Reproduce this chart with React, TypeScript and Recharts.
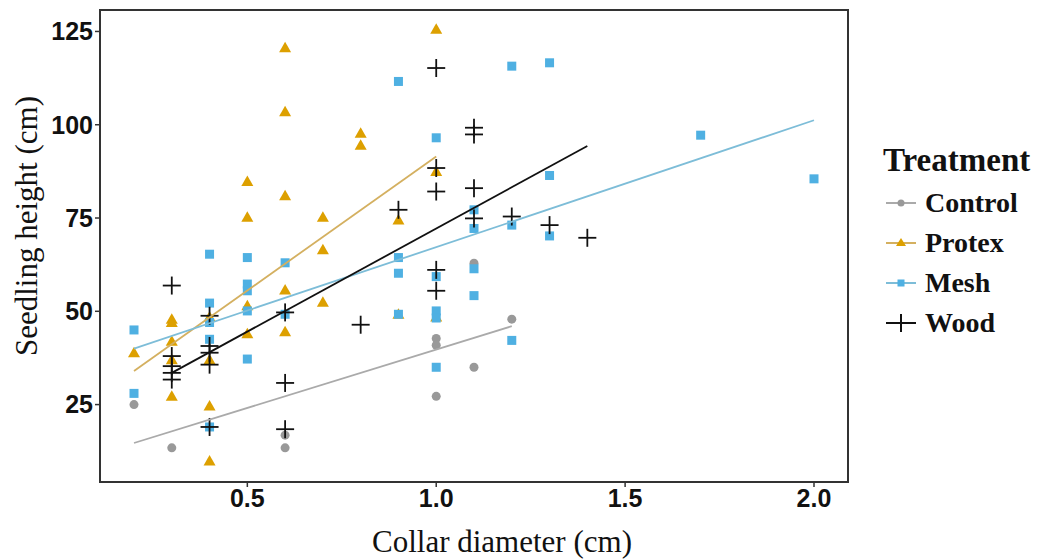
import React from "react";
import { ReferenceArea, Scatter, ScatterChart, XAxis, YAxis } from "recharts";

// values: [collar diameter, seedling height]
const controlPts: [number, number][] = [
  [0.2, 25], [0.3, 13.4], [0.6, 16.8], [0.6, 13.4], [1.0, 42.7], [1.0, 40.9],
  [1.0, 27.2], [1.1, 62.9], [1.1, 35], [1.2, 47.9],
];
const protexPts: [number, number][] = [
  [0.2, 38.9], [0.3, 47.9], [0.3, 47], [0.3, 42], [0.3, 37], [0.3, 27.2],
  [0.4, 48.5], [0.4, 37], [0.4, 24.6], [0.4, 9.9], [0.5, 84.8], [0.5, 75.2],
  [0.5, 51.5], [0.5, 44], [0.6, 120.6], [0.6, 103.5], [0.6, 81], [0.6, 55.7],
  [0.6, 44.5], [0.7, 75.2], [0.7, 66.5], [0.7, 52.4], [0.8, 97.7], [0.8, 94.5],
  [0.9, 74.5], [0.9, 49.2], [1.0, 125.6], [1.0, 87.5], [1.0, 48.5],
];
const meshPts: [number, number][] = [
  [0.2, 45], [0.2, 28], [0.4, 65.3], [0.4, 52.2], [0.4, 47], [0.4, 42.5],
  [0.4, 19], [0.5, 64.4], [0.5, 57.3], [0.5, 55.5], [0.5, 50.1], [0.5, 37.2],
  [0.6, 63], [0.6, 49.2], [0.9, 111.6], [0.9, 64.4], [0.9, 60.2], [0.9, 49.2],
  [1.0, 96.5], [1.0, 59.3], [1.0, 50.1], [1.0, 48.2], [1.0, 35], [1.1, 77.2],
  [1.1, 72.2], [1.1, 61.4], [1.1, 54.2], [1.2, 115.7], [1.2, 73.1], [1.2, 42.2],
  [1.3, 116.6], [1.3, 86.4], [1.3, 70.2], [1.7, 97.2], [2.0, 85.5],
];
const woodPts: [number, number][] = [
  [0.3, 56.9], [0.3, 38], [0.3, 35.3], [0.3, 33.5], [0.3, 31.7], [0.4, 48.8],
  [0.4, 40.7], [0.4, 38.9], [0.4, 35.7], [0.4, 19], [0.6, 49.7], [0.6, 30.8],
  [0.6, 18.4], [0.8, 46.4], [0.9, 77.2], [1.0, 115.2], [1.0, 88.4], [1.0, 82.1],
  [1.0, 61.1], [1.0, 55.5], [1.1, 99.2], [1.1, 97.4], [1.1, 83], [1.1, 74.9],
  [1.2, 75.4], [1.3, 73.1], [1.4, 69.7],
];

// fitted lines, end points
const controlFit: [number, number][] = [[0.2, 14.7], [1.2, 46]];
const protexFit: [number, number][] = [[0.2, 34], [1.0, 91.5]];
const meshFit: [number, number][] = [[0.2, 40], [2.0, 101.2]];
const woodFit: [number, number][] = [[0.3, 33.5], [1.4, 94.3]];

const xTicks = [0.5, 1.0, 1.5, 2.0];
const yTicks = [25, 50, 75, 100, 125];
const xDomain: [number, number] = [0.11, 2.09];
const yDomain: [number, number] = [4.25, 130.75];

const treatments = ["Control", "Protex", "Mesh", "Wood"];

const C: Record<string, { pt: string; line: string }> = {
  Control: { pt: "#999999", line: "#aaaaaa" },
  Protex: { pt: "#dda000", line: "#d4b060" },
  Mesh: { pt: "#4fb0e2", line: "#7dbdd8" },
  Wood: { pt: "#111111", line: "#111111" },
};

const serif = "'Liberation Serif', 'Times New Roman', serif";

const toRows = (pts: [number, number][]) => pts.map(([x, y]) => ({ x, y }));

const Dot = (color: string) => (p: any) => <circle cx={p.cx} cy={p.cy} r={4.5} fill={color} />;
const Tri = (color: string) => (p: any) => (
  <polygon
    points={`${p.cx},${p.cy - 6} ${p.cx - 6},${p.cy + 4.5} ${p.cx + 6},${p.cy + 4.5}`}
    fill={color}
  />
);
const Sq = (color: string) => (p: any) => (
  <rect x={p.cx - 4.5} y={p.cy - 4.5} width={9} height={9} fill={color} />
);
const Plus = (color: string) => (p: any) => (
  <g stroke={color} strokeWidth={1.8}>
    <line x1={p.cx - 9} x2={p.cx + 9} y1={p.cy} y2={p.cy} />
    <line x1={p.cx} x2={p.cx} y1={p.cy - 9} y2={p.cy + 9} />
  </g>
);
const NoMark = () => <g />;

function KeyIcon({ name }: { name: string }) {
  const c = C[name];
  return (
    <svg width={32} height={20} style={{ marginRight: 8 }}>
      <line x1={1} x2={31} y1={10} y2={10} stroke={c.line} strokeWidth={2} />
      {name === "Control" && <circle cx={16} cy={10} r={3.5} fill={c.pt} />}
      {name === "Protex" && <polygon points="16,5 11,13 21,13" fill={c.pt} />}
      {name === "Mesh" && <rect x={12.5} y={6.5} width={7} height={7} fill={c.pt} />}
      {name === "Wood" && <line x1={16} x2={16} y1={1} y2={19} stroke={c.pt} strokeWidth={2} />}
    </svg>
  );
}

function TreatmentLegend() {
  return (
    <div
      style={{
        position: "absolute",
        left: 883,
        top: 140,
        fontFamily: serif,
        fontWeight: "bold",
        color: "#111",
      }}
    >
      <div style={{ fontSize: 33, lineHeight: "40px", marginBottom: 3 }}>Treatment</div>
      {treatments.map((t) => (
        <div key={t} style={{ display: "flex", alignItems: "center", height: 40, fontSize: 28, marginLeft: 2 }}>
          <KeyIcon name={t} />
          {t}
        </div>
      ))}
    </div>
  );
}

const tickStyle = {
  fill: "#111",
  fontFamily: "'Liberation Sans', Arial, sans-serif",
  fontWeight: "bold" as const,
  fontSize: 25,
};

const xTitle = () => (
  <text x={502} y={552} textAnchor="middle" fontFamily={serif} fontSize={31} fill="#111">
    Collar diameter (cm)
  </text>
);
const yTitle = () => (
  <text
    transform="translate(37, 226) rotate(-90)"
    textAnchor="middle"
    fontFamily={serif}
    fontSize={31}
    fill="#111"
  >
    Seedling height (cm)
  </text>
);

export default function App() {
  return (
    <div style={{ position: "absolute", left: 0, top: 0, width: 1049, height: 559, background: "#fff" }}>
      <ScatterChart width={1049} height={559} margin={{ top: 10, right: 201, bottom: 0, left: 0 }}>
        <XAxis
          type="number"
          dataKey="x"
          domain={xDomain}
          ticks={xTicks}
          tickFormatter={(v: number) => v.toFixed(1)}
          axisLine={false}
          tickLine={{ stroke: "#333", strokeWidth: 1.5 }}
          tickSize={5}
          tick={tickStyle}
          height={77}
          allowDataOverflow
          label={{ content: xTitle }}
        />
        <YAxis
          type="number"
          dataKey="y"
          domain={yDomain}
          ticks={yTicks}
          axisLine={false}
          tickLine={{ stroke: "#333", strokeWidth: 1.5 }}
          tickSize={5}
          tick={tickStyle}
          width={100}
          allowDataOverflow
          label={{ content: yTitle }}
        />
        <ReferenceArea
          x1={xDomain[0]}
          x2={xDomain[1]}
          y1={yDomain[0]}
          y2={yDomain[1]}
          fill="none"
          stroke="#333"
          strokeWidth={2}
          ifOverflow="visible"
        />
        <Scatter name="Control" data={toRows(controlPts)} shape={Dot(C.Control.pt)} isAnimationActive={false} />
        <Scatter name="Protex" data={toRows(protexPts)} shape={Tri(C.Protex.pt)} isAnimationActive={false} />
        <Scatter name="Mesh" data={toRows(meshPts)} shape={Sq(C.Mesh.pt)} isAnimationActive={false} />
        <Scatter name="Wood" data={toRows(woodPts)} shape={Plus(C.Wood.pt)} isAnimationActive={false} />
        <Scatter data={toRows(controlFit)} line={{ stroke: C.Control.line, strokeWidth: 1.8 }} shape={NoMark} isAnimationActive={false} />
        <Scatter data={toRows(protexFit)} line={{ stroke: C.Protex.line, strokeWidth: 1.8 }} shape={NoMark} isAnimationActive={false} />
        <Scatter data={toRows(meshFit)} line={{ stroke: C.Mesh.line, strokeWidth: 1.8 }} shape={NoMark} isAnimationActive={false} />
        <Scatter data={toRows(woodFit)} line={{ stroke: C.Wood.line, strokeWidth: 1.8 }} shape={NoMark} isAnimationActive={false} />
      </ScatterChart>
      <TreatmentLegend />
    </div>
  );
}
